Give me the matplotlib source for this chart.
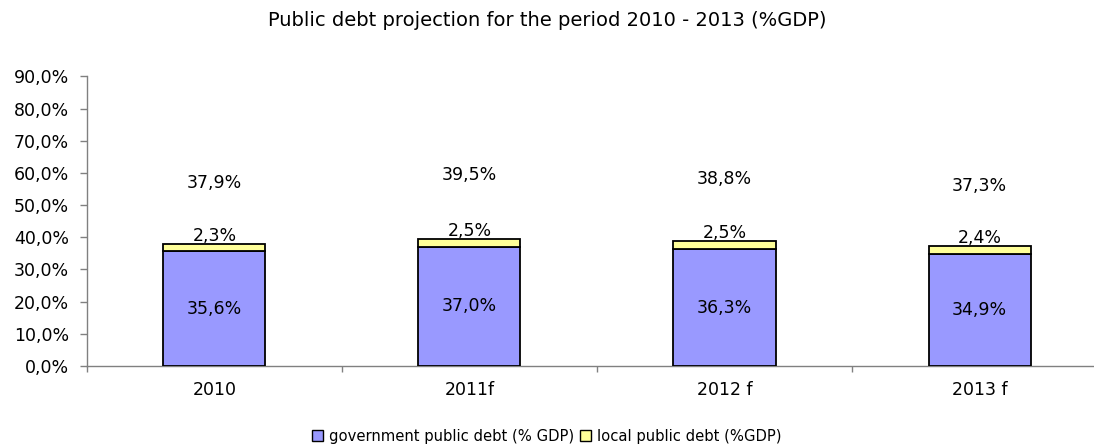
import numpy as np
import matplotlib
matplotlib.use("Agg")
import matplotlib.pyplot as plt
from matplotlib.patches import Patch

plt.rcParams["font.family"] = ["DejaVu Sans"]

years = ["2010", "2011f", "2012 f", "2013 f"]
gov_debt = [35.6, 37.0, 36.3, 34.9]
local_debt = [2.3, 2.5, 2.5, 2.4]
total_debt = [37.9, 39.5, 38.8, 37.3]

BLUE = "#9999FF"
YELLOW = "#FFFF99"
AXIS = "#808080"
FS = 12.5


def pct(v):
    return ("%.1f%%" % v).replace(".", ",")


fig = plt.figure(figsize=(10.94, 4.46), dpi=100)
ax = fig.add_axes([0.0795, 0.1794, 0.9324, 0.6491])

x = np.arange(len(years))
w = 0.4
ax.bar(x, gov_debt, w, color=BLUE, edgecolor="black", lw=1.3, zorder=3)
ax.bar(x, local_debt, w, bottom=gov_debt, color=YELLOW, edgecolor="black",
       lw=1.3, zorder=3)

for i in range(len(years)):
    ax.text(x[i], gov_debt[i] / 2, pct(gov_debt[i]), ha="center",
            va="center", fontsize=FS)
    ax.annotate(pct(local_debt[i]), (x[i], total_debt[i]),
                xytext=(0, -0.5), textcoords="offset points",
                ha="center", va="bottom", fontsize=FS)
    # totals float well above the stacks
    ax.text(x[i], total_debt[i] * 1.5, pct(total_debt[i]), ha="center",
            va="center", fontsize=FS)

ax.set_xlim(-0.5, len(years) - 0.5)
ax.set_ylim(0, 90)
ax.set_yticks(np.arange(0, 91, 10))
ax.set_yticklabels([pct(v) for v in np.arange(0, 91, 10)], fontsize=FS)
ax.set_xticks(x)
ax.set_xticklabels(years, fontsize=FS)
ax.tick_params(axis="x", length=0, pad=11)
ax.set_xticks(np.arange(-0.5, len(years), 1), minor=True)
ax.tick_params(axis="x", which="minor", length=4, color=AXIS, width=1)
ax.tick_params(axis="y", length=5, color=AXIS, width=1, pad=8)

for s in ("top", "right"):
    ax.spines[s].set_visible(False)
for s in ("left", "bottom"):
    ax.spines[s].set_color(AXIS)
    ax.spines[s].set_linewidth(1.0)

fig.text(0.5, 0.953, "Public debt projection for the period 2010 - 2013 (%GDP)",
         ha="center", va="center", fontsize=14)

handles = [Patch(facecolor=BLUE, edgecolor="black", lw=1.0),
           Patch(facecolor=YELLOW, edgecolor="black", lw=1.0)]
fig.legend(handles, ["government public debt (% GDP)",
                     "local public debt (%GDP)"],
           loc="center", bbox_to_anchor=(0.5, 0.022), ncol=2, frameon=False,
           fontsize=10.6, handlelength=0.75, handleheight=0.75,
           handletextpad=0.4, columnspacing=0.4)

fig.savefig("out.png", dpi=100)
